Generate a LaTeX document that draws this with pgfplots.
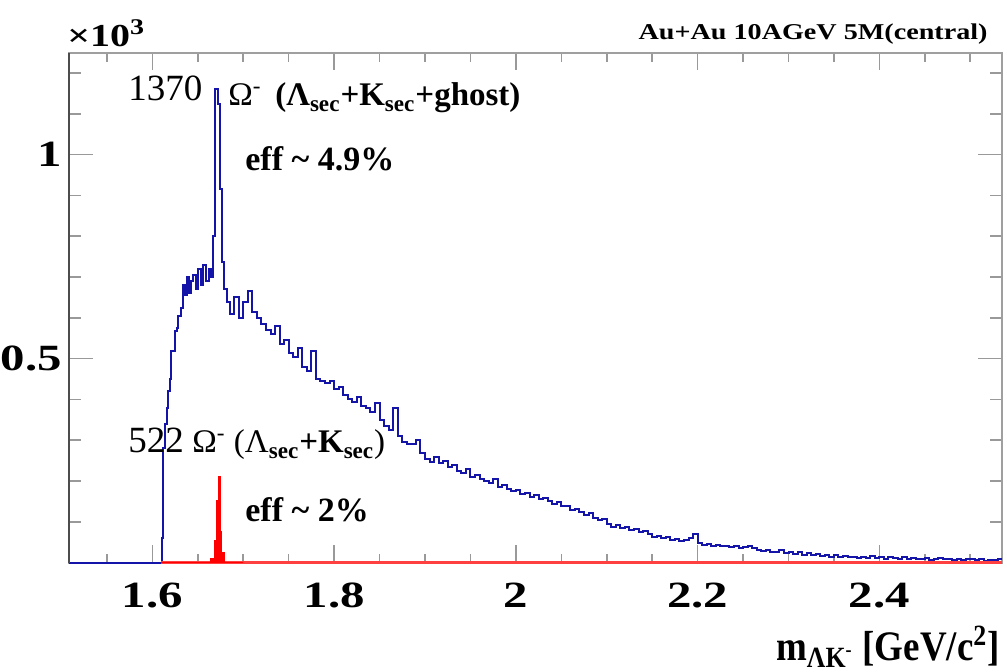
\documentclass[border=0pt]{standalone}
\usepackage{fontspec}
\setmainfont{Liberation Serif}
\usepackage{graphicx}
\usepackage{pgfplots}
\pgfplotsset{compat=1.18}
\definecolor{histblue}{rgb}{0.08,0.08,0.66}
\newcommand{\wide}[1]{\scalebox{1.32}[1]{#1}}
\begin{document}
\begin{tikzpicture}
\begin{scope}[x=0.5pt,y=-0.5pt,shift={(-69.3,-562.7)}]
\useasboundingbox (0,0) rectangle (1007,672);
\end{scope}
\begin{axis}[
  at={(0,0)}, anchor=south west, scale only axis,
  width=466.2pt, height=255pt,
  xmin=1.5086, xmax=2.5346, ymin=0, ymax=1250,
  clip=false,
  axis line style={draw=gray!75, line width=0.9pt},
  tick align=inside,
  xtick={1.6,1.8,2.0,2.2,2.4},
  xticklabels={\wide{1.6},\wide{1.8},\wide{2},\wide{2.2},\wide{2.4}},
  minor xtick={1.55,1.65,1.7,1.75,1.85,1.9,1.95,2.05,2.1,2.15,2.25,2.3,2.35,2.45,2.5},
  ytick={500,1000},
  yticklabels={\wide{0.5},\wide{1}},
  minor ytick={100,200,300,400,600,700,800,900,1100,1200},
  major tick length=10pt, minor tick length=5pt,
  tick style={draw=gray!80, line width=0.8pt},
  xtick style={/pgfplots/major tick length=8.9pt,/pgfplots/minor tick length=4.5pt},
  ytick style={/pgfplots/major tick length=12pt,/pgfplots/minor tick length=6pt},
  /pgf/number format/assume math mode=true,
  xticklabel style={font={\bfseries\fontsize{18.5}{18.5}\selectfont}, anchor=north, inner sep=0pt, yshift=-10pt},
  yticklabel style={font={\bfseries\fontsize{18.5}{18.5}\selectfont}, anchor=east, inner sep=0pt, xshift=-3.5pt},
]
% blue: Omega- candidates (Lambda_sec + K_sec + ghost)
\addplot[const plot, histblue, line width=1pt] coordinates {
(1.5086,0) (1.6103,60) (1.6114,200) (1.6121,280) (1.6140,340) (1.6158,380) (1.6176,420) (1.6195,450)
(1.6203,520) (1.6250,568) (1.6269,576) (1.6287,604) (1.6313,624) (1.6341,680) (1.6360,655) (1.6380,700)
(1.6400,660) (1.6420,690) (1.6450,705) (1.6480,670) (1.6500,720) (1.6530,680) (1.6560,730) (1.6590,690)
(1.6620,720) (1.6645,700) (1.6671,800) (1.6690,1160) (1.6719,1125) (1.6745,917) (1.6764,738) (1.6790,672)
(1.6822,640) (1.685,610) (1.690,650) (1.695,600) (1.700,640) (1.705,665) (1.710,615) (1.715,600)
(1.720,585) (1.725,570) (1.730,560) (1.735,580) (1.740,535) (1.745,545) (1.750,515) (1.755,505)
(1.760,525) (1.765,480) (1.770,470) (1.775,520) (1.780,450) (1.785,445) (1.790,440) (1.795,445)
(1.800,425) (1.805,430) (1.810,410) (1.815,400) (1.820,395) (1.825,405) (1.830,385) (1.835,380)
(1.840,370) (1.845,392) (1.850,350) (1.855,335) (1.860,325) (1.865,380) (1.870,310) (1.875,295)
(1.880,292) (1.885,290) (1.890,300) (1.895,270) (1.900,255) (1.905,248) (1.910,260) (1.915,245)
(1.920,250) (1.925,235) (1.930,240) (1.935,225) (1.940,220) (1.945,230) (1.950,210) (1.955,215)
(1.960,205) (1.965,200) (1.970,195) (1.975,205) (1.980,185) (1.985,190) (1.990,180) (1.995,175)
(2.000,178) (2.005,168) (2.010,172) (2.015,160) (2.020,165) (2.025,155) (2.030,158) (2.035,150)
(2.040,145) (2.045,148) (2.050,138) (2.055,140) (2.060,130) (2.065,132) (2.070,125) (2.075,118)
(2.080,122) (2.085,110) (2.090,105) (2.095,108) (2.100,95) (2.105,88) (2.110,92) (2.115,85)
(2.120,88) (2.125,80) (2.130,82) (2.135,76) (2.140,78) (2.145,70) (2.150,64) (2.155,66)
(2.160,60) (2.165,62) (2.170,55) (2.175,58) (2.180,52) (2.185,55) (2.190,60) (2.195,70)
(2.200,48) (2.205,44) (2.210,45) (2.215,42) (2.220,44) (2.225,40) (2.230,41) (2.235,38)
(2.240,40) (2.245,36) (2.250,38) (2.255,42) (2.260,35) (2.265,30) (2.270,28) (2.275,32)
(2.280,25) (2.285,26) (2.290,30) (2.295,24) (2.300,26) (2.305,22) (2.310,25) (2.315,20)
(2.320,23) (2.325,19) (2.330,22) (2.335,17) (2.340,18) (2.345,15) (2.350,18) (2.355,14)
(2.360,16) (2.365,13) (2.370,15) (2.375,12) (2.380,14) (2.385,11) (2.390,16) (2.395,12)
(2.400,14) (2.405,10) (2.410,15) (2.415,12) (2.420,9) (2.425,13) (2.430,10) (2.435,12)
(2.440,8) (2.445,10) (2.450,12) (2.455,7) (2.460,9) (2.465,11) (2.470,8) (2.475,10)
(2.480,7) (2.485,9) (2.490,6) (2.495,8) (2.500,10) (2.505,6) (2.510,8) (2.515,5)
(2.520,7) (2.525,6) (2.530,9) (2.5346,9)
};
% red baseline
\addplot[red!75, line width=1.6pt] coordinates {(1.6096,0) (2.5346,0)};
% red: Omega- (Lambda_sec + K_sec)
\addplot[const plot, draw=red, fill=red, line width=0.6pt] coordinates {
(1.6096,0) (1.6646,11) (1.6690,55) (1.6709,153) (1.6726,210) (1.6745,76) (1.6764,24) (1.6793,0) (1.7000,0)
} \closedcycle;
\draw[black!70, line width=1.1pt] (rel axis cs:0,0) -- (rel axis cs:0,1);
\end{axis}
\begin{scope}[x=0.5pt,y=-0.5pt,shift={(-69.3,-562.7)}]
\node[anchor=base west, inner sep=0pt, font={\bfseries\fontsize{16}{16}\selectfont}] at (67,47) {\scalebox{1.25}[1]{×10\textsuperscript{3}}};
\node[anchor=base east, inner sep=0pt, font={\bfseries\fontsize{11.3}{12}\selectfont}] at (988,40) {\scalebox{1.245}[1]{Au+Au 10AGeV 5M(central)}};
\node[anchor=base west, inner sep=0pt, font={\fontsize{18.5}{20}\selectfont}] at (128,101) {1370};
\node[anchor=base west, inner sep=0pt, font={\fontsize{16.5}{18}\selectfont}] at (228,106) {Ω\textsuperscript{-}\, \textbf{(Λ\textsubscript{sec}+K\textsubscript{sec}+ghost)}};
\node[anchor=base west, inner sep=0pt, font={\bfseries\fontsize{17}{18}\selectfont}] at (245,171) {eff \char`\~\ 4.9\%};
\node[anchor=base west, inner sep=0pt, font={\fontsize{18.5}{20}\selectfont}] at (128,453) {522};
\node[anchor=base west, inner sep=0pt, font={\fontsize{16.5}{18}\selectfont}] at (192,453) {Ω\textsuperscript{-} (Λ\textsubscript{\bfseries sec}\textbf{+K\textsubscript{sec}})};
\node[anchor=base west, inner sep=0pt, font={\bfseries\fontsize{17}{18}\selectfont}] at (245,522) {eff \char`\~\ 2\%};
\node[anchor=base east, inner sep=0pt, font={\bfseries\fontsize{21}{22}\selectfont}] at (1000,661) {\scalebox{0.88}[1]{m\textsubscript{ΛK\textsuperscript{-}} [GeV/c\textsuperscript{2}]}};
\end{scope}
\end{tikzpicture}
\end{document}
